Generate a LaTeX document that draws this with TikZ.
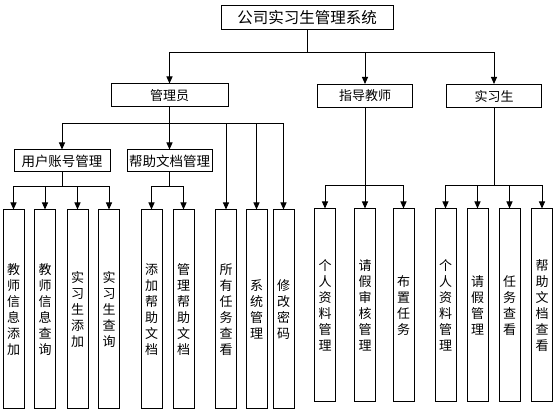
\documentclass[tikz,border=0pt]{standalone}
\usepackage{fontspec}
\newfontfamily\cjk{Noto Sans CJK SC}
\usetikzlibrary{arrows.meta}
\begin{document}
\begin{tikzpicture}[x=1pt,y=-1pt,
  box/.style={draw,line width=1pt,inner sep=0pt,fill=white},
  topbox/.style={box,font=\cjk\fontsize{15.5}{18}\selectfont},
  midbox/.style={box,minimum height=23pt,font=\cjk\fontsize{13}{16}\selectfont},
  subbox/.style={box,minimum height=22pt,font=\cjk\fontsize{13.5}{16}\selectfont},
  leafL/.style={box,minimum width=21pt,minimum height=199pt,align=center,font=\cjk\fontsize{13}{16}\selectfont},
  leafR/.style={box,minimum width=21pt,minimum height=193pt,align=center,font=\cjk\fontsize{13}{16}\selectfont},
  ln/.style={line width=1pt},
  arr/.style={line width=1pt,-{Triangle[width=6pt,length=7pt]}}]
\useasboundingbox (0,0) rectangle (558,411);
\fill[white] (0,0) rectangle (558,411);
% nodes
\node[topbox,minimum width=172pt,minimum height=24pt] (root) at (307,18) {公司实习生管理系统};
\node[midbox,minimum width=117pt] (admin) at (169.5,95.5) {管理员};
\node[midbox,minimum width=95pt] (teacher) at (365,96) {指导教师};
\node[midbox,minimum width=95pt] (student) at (494,96) {实习生};
\node[subbox,minimum width=96pt] (user) at (62,161) {用户账号管理};
\node[subbox,minimum width=85pt] (help) at (169.5,161) {帮助文档管理};
\node[leafL] (l1) at (13.5,309.5) {教\\师\\信\\息\\添\\加};
\node[leafL] (l2) at (45,309.5) {教\\师\\信\\息\\查\\询};
\node[leafL] (l3) at (77.5,309.5) {实\\习\\生\\添\\加};
\node[leafL] (l4) at (109,309.5) {实\\习\\生\\查\\询};
\node[leafL] (l5) at (151.5,309.5) {添\\加\\帮\\助\\文\\档};
\node[leafL] (l6) at (183.5,309.5) {管\\理\\帮\\助\\文\\档};
\node[leafL] (l7) at (226,309.5) {所\\有\\任\\务\\查\\看};
\node[leafL] (l8) at (256.5,309.5) {系\\统\\管\\理};
\node[leafL] (l9) at (283.5,309.5) {修\\改\\密\\码};
\node[leafR] (l10) at (325,305.5) {个\\人\\资\\料\\管\\理};
\node[leafR] (l11) at (365,305.5) {请\\假\\审\\核\\管\\理};
\node[leafR] (l12) at (403.5,305.5) {布\\置\\任\\务};
\node[leafR] (l13) at (445.5,305.5) {个\\人\\资\\料\\管\\理};
\node[leafR] (l14) at (477.5,305.5) {请\\假\\管\\理};
\node[leafR] (l15) at (509.5,305.5) {任\\务\\查\\看};
\node[leafR] (l16) at (542,305.5) {帮\\助\\文\\档\\查\\看};
% bus points
\coordinate (b0) at (307,53);
\coordinate (b1) at (169.5,124);
\coordinate (b2) at (62,187);
\coordinate (b3) at (169.5,187);
\coordinate (b4) at (365,186);
\coordinate (b5) at (494,186);
% connectors
\draw[ln] (root.south) -- (b0);
\draw[arr] (b0) -| (admin.north);
\draw[arr] (b0) -| (teacher.north);
\draw[arr] (b0) -| (student.north);
\draw[ln] (admin.south) -- (b1);
\draw[arr] (b1) -| (user.north);
\draw[arr] (b1) -- (help.north);
\draw[arr] (b1) -| (l7.north);
\draw[arr] (b1) -| (l8.north);
\draw[arr] (b1) -| (l9.north);
\draw[ln] (user.south) -- (b2);
\draw[arr] (b2) -| (l1.north);
\draw[arr] (b2) -| (l2.north);
\draw[arr] (b2) -| (l3.north);
\draw[arr] (b2) -| (l4.north);
\draw[ln] (help.south) -- (b3);
\draw[arr] (b3) -| (l5.north);
\draw[arr] (b3) -| (l6.north);
\draw[ln] (teacher.south) -- (b4);
\draw[arr] (b4) -| (l10.north);
\draw[arr] (b4) -- (l11.north);
\draw[arr] (b4) -| (l12.north);
\draw[ln] (student.south) -- (b5);
\draw[arr] (b5) -| (l13.north);
\draw[arr] (b5) -| (l14.north);
\draw[arr] (b5) -| (l15.north);
\draw[arr] (b5) -| (l16.north);
\end{tikzpicture}
\end{document}
